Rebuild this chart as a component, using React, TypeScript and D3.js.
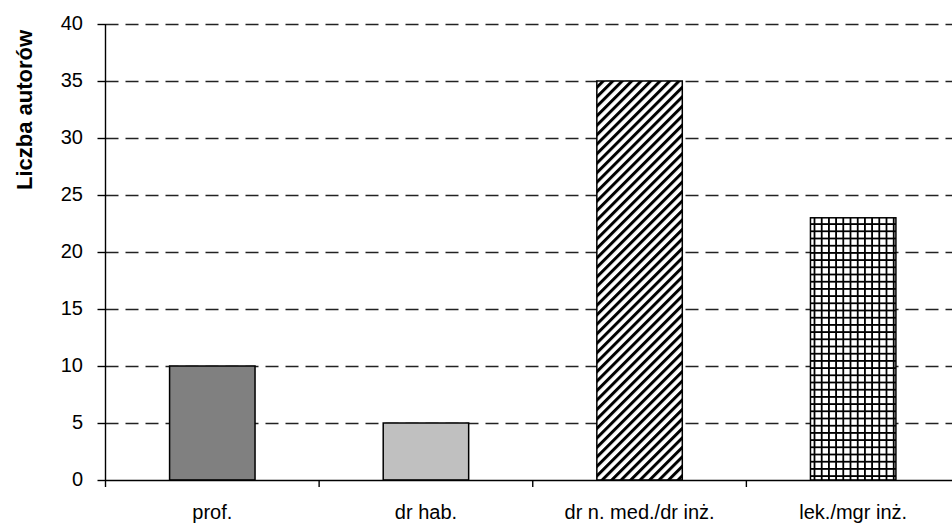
import React from "react";
import * as d3 from "d3";

const categories = ["prof.", "dr hab.", "dr n. med./dr inż.", "lek./mgr inż."];
const values = [10, 5, 35, 23];
const yTicks = [0, 5, 10, 15, 20, 25, 30, 35, 40];
const yLabel = "Liczba autorów";

const W = 952;
const H = 524;
const left = 105.5;
const right = 960;
const top = 24;
const bottom = 480;

export default function App() {
  const x = d3.scaleBand<string>().domain(categories).range([left, right]).paddingInner(0.6).paddingOuter(0.3);
  const xb = d3.scaleBand<string>().domain(categories).range([left, right]);
  const y = d3.scaleLinear().domain([0, 40]).range([bottom, top]);
  const fills = ["#808080", "#c0c0c0", "url(#hatch)", "url(#grid)"];

  return (
    <svg width={W} height={H} style={{ position: "absolute", left: 0, top: 0, background: "#fff" }}
      fontFamily="'Liberation Sans', Arial, sans-serif">
      <defs>
        <pattern id="hatch" patternUnits="userSpaceOnUse" width={6.7} height={10} patternTransform="rotate(45)">
          <rect width={6.7} height={10} fill="#fff" />
          <rect x={0} y={0} width={3} height={10} fill="#000" />
        </pattern>
        <pattern id="grid" patternUnits="userSpaceOnUse" width={7.2} height={7.2}>
          <rect width={7.2} height={7.2} fill="#fff" />
          <rect x={0} y={0} width={1.8} height={7.2} fill="#000" />
          <rect x={0} y={0} width={7.2} height={1.8} fill="#000" />
        </pattern>
      </defs>
      {/* gridlines */}
      {yTicks.filter((t) => t > 0).map((t) => (
        <line key={t} x1={left} x2={W} y1={Math.round(y(t)) + 0.5} y2={Math.round(y(t)) + 0.5}
          stroke="#222" strokeWidth={1.4} strokeDasharray="13,7" />
      ))}
      {/* bars */}
      {categories.map((c, i) => (
        <rect key={c} x={x(c)} y={y(values[i])} width={x.bandwidth()} height={bottom - y(values[i])}
          fill={fills[i]} stroke="#000" strokeWidth={1.5} />
      ))}
      {/* y axis */}
      <line x1={left} x2={left} y1={top} y2={bottom} stroke="#000" strokeWidth={1.4} />
      {yTicks.map((t) => (
        <g key={t}>
          <line x1={left - 8} x2={left} y1={Math.round(y(t)) + 0.5} y2={Math.round(y(t)) + 0.5} stroke="#000" strokeWidth={1.4} />
          <text x={83} y={y(t)} dy="0.3em" textAnchor="end" fontSize={20}>{t}</text>
        </g>
      ))}
      {/* x axis */}
      <line x1={left} x2={W} y1={bottom + 0.5} y2={bottom + 0.5} stroke="#000" strokeWidth={1.4} />
      {categories.map((c) => (
        <g key={c}>
          <line x1={xb(c)!} x2={xb(c)!} y1={bottom} y2={bottom + 7} stroke="#000" strokeWidth={1.4} />
          <text x={xb(c)! + xb.bandwidth() / 2} y={519} textAnchor="middle" fontSize={20}>{c}</text>
        </g>
      ))}
      <text transform={`translate(32,110) rotate(-90)`} textAnchor="middle" fontSize={22} fontWeight="bold">{yLabel}</text>
    </svg>
  );
}
